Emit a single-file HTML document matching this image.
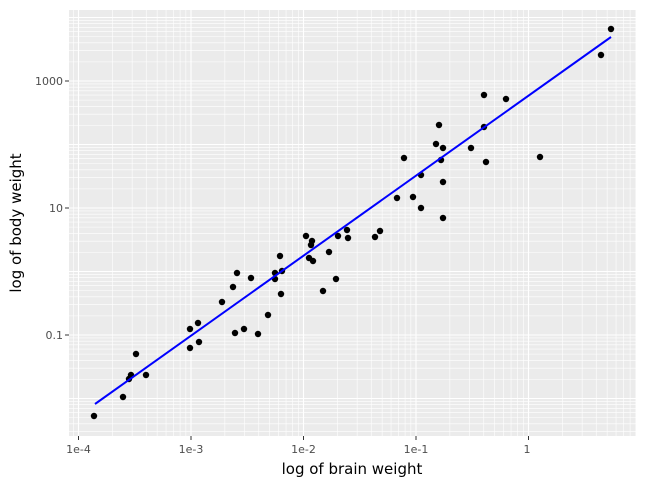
<!DOCTYPE html>
<html><head><meta charset="utf-8"><style>
html,body{margin:0;padding:0;background:#fff;}
svg{display:block;font-family:"DejaVu Sans","Liberation Sans",sans-serif;}
</style></head><body>
<svg id="s" width="647" height="487" xmlns="http://www.w3.org/2000/svg">
<rect x="69" y="10" width="567" height="426" fill="#ebebeb"/>
<g id="grid"></g>
<g id="pts" fill="#000"></g>
<line x1="95" y1="404" x2="611" y2="37" stroke="#0000ff" stroke-width="2"/>
<g fill="#4d4d4d" font-size="11" text-anchor="end">
<text x="63" y="85">1000</text><text x="63" y="212">10</text><text x="63" y="339">0.1</text>
</g>
<g stroke="#333" stroke-width="1">
<line x1="65" y1="81" x2="69" y2="81"/><line x1="65" y1="208" x2="69" y2="208"/><line x1="65" y1="335" x2="69" y2="335"/>
<line x1="78.5" y1="436" x2="78.5" y2="440"/><line x1="191" y1="436" x2="191" y2="440"/><line x1="303.5" y1="436" x2="303.5" y2="440"/><line x1="416" y1="436" x2="416" y2="440"/><line x1="528.5" y1="436" x2="528.5" y2="440"/>
</g>
<g fill="#4d4d4d" font-size="11" text-anchor="middle">
<text x="78.5" y="453">1e-4</text><text x="191" y="453">1e-3</text><text x="303.5" y="453">1e-2</text><text x="416" y="453">1e-1</text><text x="527" y="453">1</text>
</g>
<text x="352" y="474" font-size="15" text-anchor="middle" fill="#000">log of brain weight</text>
<text transform="translate(21,223) rotate(-90)" font-size="15" text-anchor="middle" fill="#000">log of body weight</text>
</svg>
<script>
var NS="http://www.w3.org/2000/svg",g=document.getElementById("grid");
function ln(x1,y1,x2,y2,w){var l=document.createElementNS(NS,"line");l.setAttribute("x1",x1);l.setAttribute("y1",y1);l.setAttribute("x2",x2);l.setAttribute("y2",y2);l.setAttribute("stroke","#fff");l.setAttribute("stroke-width",w);g.appendChild(l);}
function X(l){return 78.5+(l+4)*112.5;}function Y(l){return 208-(l-1)*63.5;}
for(var d=-5;d<=1;d++)for(var m=1;m<10;m++){var x=X(d+Math.log10(m));if(x>69&&x<636)ln(x,10,x,436,m==1?1.1:0.6);}
for(var d=-3;d<=4;d++)for(var m=1;m<10;m++){var y=Y(d+Math.log10(m));if(y>10&&y<436)ln(69,y,636,y,m==1?1.1:0.6);}
var P=[[94,416],[123,397],[129,379],[131,375],[136,354],[146,375],[190,329],[190,348],[198,323],[199,342],[222,302],[233,287],[235,333],[237,273],[244,329],[251,278],[258,334],[268,315],[275,279],[275,273],[280,256],[281,294],[282,271],[306,236],[309,258],[311,245],[312,241],[313,261],[323,291],[329,252],[336,279],[338,236],[347,230],[348,238],[375,237],[380,231],[397,198],[404,158],[413,197],[421,175],[421,208],[436,144],[439,125],[441,160],[443,148],[443,182],[443,218],[471,148],[484,95],[484,127],[486,162],[506,99],[540,157],[601,55],[611,29]];
var pg=document.getElementById("pts");
P.forEach(function(p){var c=document.createElementNS(NS,"circle");c.setAttribute("cx",p[0]);c.setAttribute("cy",p[1]);c.setAttribute("r",3.2);pg.appendChild(c);});
</script>
</body></html>
